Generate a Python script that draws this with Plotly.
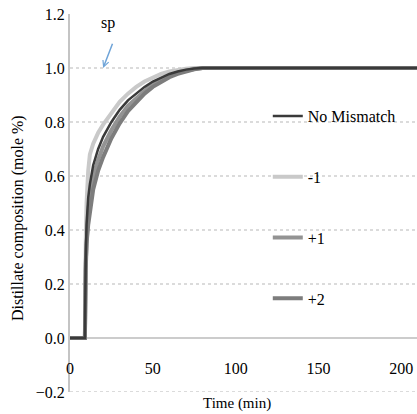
import plotly.graph_objects as go

# ---- data ----
time_min = [0, 9, 9.5, 10, 11, 12, 14, 17, 20, 25, 30, 35, 40, 45, 50, 55, 60, 65, 70, 75, 80, 90, 100, 150, 210]
no_mismatch = [0, 0, 0.30, 0.42, 0.52, 0.57, 0.64, 0.70, 0.745, 0.80, 0.845, 0.88, 0.905, 0.93, 0.95, 0.965, 0.978, 0.987, 0.994, 0.998, 1.0, 1.0, 1.0, 1.0, 1.0]
minus_1 = [0, 0, 0.35, 0.50, 0.62, 0.68, 0.72, 0.76, 0.79, 0.835, 0.875, 0.905, 0.93, 0.95, 0.965, 0.978, 0.987, 0.993, 0.997, 1.0, 1.0, 1.0, 1.0, 1.0, 1.0]
plus_1 = [0, 0, 0.28, 0.38, 0.47, 0.52, 0.60, 0.66, 0.71, 0.77, 0.82, 0.86, 0.89, 0.915, 0.94, 0.957, 0.972, 0.983, 0.991, 0.996, 1.0, 1.0, 1.0, 1.0, 1.0]
plus_2 = [0, 0, 0.25, 0.35, 0.42, 0.47, 0.55, 0.62, 0.67, 0.74, 0.795, 0.84, 0.875, 0.905, 0.93, 0.95, 0.966, 0.978, 0.988, 0.995, 1.0, 1.0, 1.0, 1.0, 1.0]

series_names = ["No Mismatch", "-1", "+1", "+2"]
series_values = [no_mismatch, minus_1, plus_1, plus_2]

x_ticks = [0, 50, 100, 150, 200]
y_ticks = [-0.2, 0.0, 0.2, 0.4, 0.6, 0.8, 1.0, 1.2]
y_grid = [-0.2, 0.2, 0.4, 0.6, 0.8, 1.0]

# ---- styles ----
colors = ["#3a3a3a", "#c9c9c9", "#939393", "#7d7d7d"]
widths = [2.5, 4, 4, 4]
draw_order = [1, 2, 3, 0]  # black line drawn on top
FONT = "Liberation Serif"

fig = go.Figure()
for i in draw_order:
    fig.add_trace(go.Scatter(
        x=time_min, y=series_values[i], mode="lines", name=series_names[i],
        line=dict(color=colors[i], width=widths[i]),
        legendgroup=series_names[i], legendrank=i + 1,
    ))

shapes = []
for g in y_grid:
    shapes.append(dict(type="line", xref="paper", x0=0, x1=1, yref="y", y0=g, y1=g,
                       line=dict(color="#cfcfcf", width=1.5, dash="dot"), layer="below"))

fig.update_layout(
    width=417, height=414,
    margin=dict(l=70, r=0, t=14, b=22),
    paper_bgcolor="white", plot_bgcolor="white",
    font=dict(family=FONT, size=16, color="black"),
    showlegend=True,
    legend=dict(x=0.57, y=0.775, xanchor="left", yanchor="top",
                bgcolor="rgba(0,0,0,0)", tracegroupgap=37,
                font=dict(family=FONT, size=16, color="black"),
                itemwidth=30),
    xaxis=dict(range=[0, 209.5], tickvals=x_ticks, showgrid=False, zeroline=False,
               anchor="free", position=0.2 / 1.4, showline=True, linecolor="#cccccc", linewidth=2,
               ticks="outside", ticklen=16, tickcolor="rgba(0,0,0,0)", layer="below traces",
               tickfont=dict(family=FONT, size=16, color="black")),
    yaxis=dict(range=[-0.2, 1.2], tickvals=y_ticks, tickformat=".1f", showgrid=False,
               zeroline=False, showline=True, linecolor="#c4c4c4", linewidth=2,
               ticks="", layer="below traces",
               tickfont=dict(family=FONT, size=16, color="black")),
    shapes=shapes,
    annotations=[
        dict(text="Time (min)", xref="paper", yref="paper", x=0.48, y=-0.03,
             xanchor="center", yanchor="middle", showarrow=False,
             font=dict(family=FONT, size=15, color="black")),
        dict(text="Distillate composition (mole %)", xref="paper", yref="paper",
             x=-0.15, y=0.46, textangle=-90, xanchor="center", yanchor="middle",
             showarrow=False, font=dict(family=FONT, size=16, color="black")),
        dict(text="sp", x=23, y=1.165, xref="x", yref="y", showarrow=False,
             font=dict(family=FONT, size=16, color="black")),
        dict(text="", x=20, y=1.0, xref="x", yref="y", ax=26, ay=1.095, axref="x", ayref="y",
             showarrow=True, arrowhead=5, arrowsize=0.8, arrowwidth=1.5, arrowcolor="#6fa4d8"),
    ],
)

fig.write_html("out.html")
